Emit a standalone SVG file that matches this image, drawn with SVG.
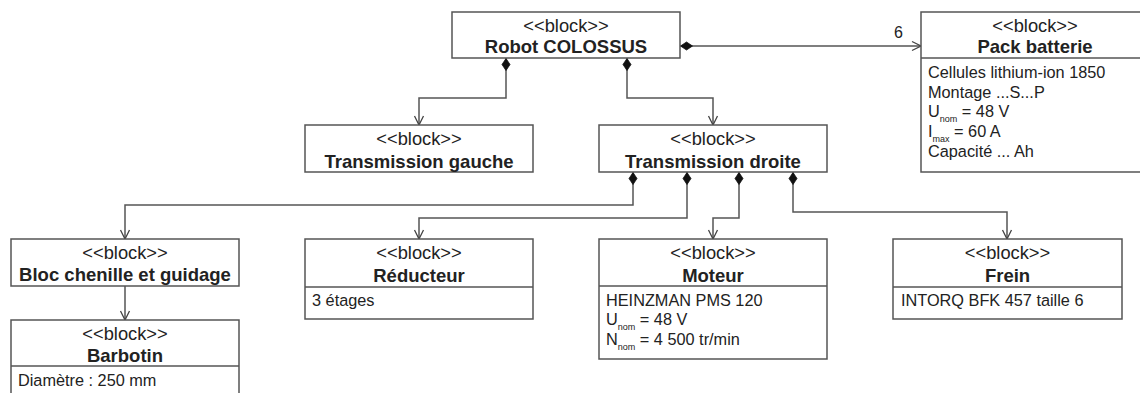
<svg xmlns="http://www.w3.org/2000/svg" width="1140" height="393" viewBox="0 0 1140 393">
<style>
.box{fill:#fff;stroke:#555;stroke-width:1.5}
.div{stroke:#555;stroke-width:1.5}
.st{font-family:"Liberation Sans",Arial,sans-serif;font-size:18.3px;fill:#222;text-anchor:middle}
.ti{font-family:"Liberation Sans",Arial,sans-serif;font-size:18.5px;font-weight:bold;fill:#222;text-anchor:middle}
.bd{font-family:"Liberation Sans",Arial,sans-serif;font-size:16.3px;fill:#222}
.sb{font-size:9px}
.cn{fill:none;stroke:#555;stroke-width:1.5;marker-start:url(#dia);marker-end:url(#arr)}
.lb{font-family:"Liberation Sans",Arial,sans-serif;font-size:16px;fill:#222}
</style>
<defs>
<marker id="dia" viewBox="0 -5 14 10" refX="0" refY="0" markerWidth="14" markerHeight="10" markerUnits="userSpaceOnUse" orient="auto">
<path d="M0.5,0 L6.5,-4 L12.5,0 L6.5,4 Z" fill="#111" stroke="#111" stroke-width="0.8"/>
</marker>
<marker id="arr" viewBox="-11 -6 12 12" refX="0" refY="0" markerWidth="12" markerHeight="12" markerUnits="userSpaceOnUse" orient="auto">
<path d="M-9,-4.5 L0,0 L-9,4.5" fill="none" stroke="#444" stroke-width="1.3"/>
</marker>
</defs>
<rect width="1140" height="393" fill="#fff"/>
<g id="connectors">
<path class="cn" d="M506,58 V98 H419 V125"/>
<path class="cn" d="M627,58 V98 H713 V125"/>
<path class="cn" d="M680,46 H921"/>
<text class="lb" x="894" y="38">6</text>
<path class="cn" d="M633,172 V205 H125 V239"/>
<path class="cn" d="M687,172 V218 H419 V239"/>
<path class="cn" d="M739,172 V218 H713 V239"/>
<path class="cn" d="M793,172 V212 H1007 V239"/>
<path d="M125,286 V320" fill="none" stroke="#555" stroke-width="1.5" marker-end="url(#arr)"/>
</g>
<g id="robot">
<rect class="box" x="452" y="12" width="228" height="46"/>
<text class="st" x="566" y="32">&lt;&lt;block&gt;&gt;</text>
<text class="ti" x="566" y="53">Robot COLOSSUS</text>
</g>
<g id="pack">
<rect class="box" x="921" y="12" width="228" height="160"/>
<line class="div" x1="921" y1="58" x2="1149" y2="58"/>
<text class="st" x="1035" y="32">&lt;&lt;block&gt;&gt;</text>
<text class="ti" x="1035" y="53">Pack batterie</text>
<text class="bd" x="928" y="78">Cellules lithium-ion 1850</text>
<text class="bd" x="928" y="97.5">Montage ...S...P</text>
<text class="bd" x="928" y="117">U<tspan class="sb" dy="5">nom</tspan><tspan dy="-5"> = 48 V</tspan></text>
<text class="bd" x="928" y="137">I<tspan class="sb" dy="5">max</tspan><tspan dy="-5"> = 60 A</tspan></text>
<text class="bd" x="928" y="157">Capacité ... Ah</text>
</g>
<g id="gauche">
<rect class="box" x="305" y="125" width="228" height="47"/>
<text class="st" x="419" y="145">&lt;&lt;block&gt;&gt;</text>
<text class="ti" x="419" y="168">Transmission gauche</text>
</g>
<g id="droite">
<rect class="box" x="599" y="125" width="228" height="47"/>
<text class="st" x="713" y="145">&lt;&lt;block&gt;&gt;</text>
<text class="ti" x="713" y="168">Transmission droite</text>
</g>
<g id="chenille">
<rect class="box" x="11" y="239" width="228" height="47"/>
<text class="st" x="125" y="259">&lt;&lt;block&gt;&gt;</text>
<text class="ti" x="125" y="281">Bloc chenille et guidage</text>
</g>
<g id="barbotin">
<rect class="box" x="11" y="320" width="228" height="90"/>
<line class="div" x1="11" y1="366" x2="239" y2="366"/>
<text class="st" x="125" y="340">&lt;&lt;block&gt;&gt;</text>
<text class="ti" x="125" y="362">Barbotin</text>
<text class="bd" x="18" y="386">Diamètre : 250 mm</text>
</g>
<g id="reducteur">
<rect class="box" x="305" y="239" width="228" height="80"/>
<line class="div" x1="305" y1="287" x2="533" y2="287"/>
<text class="st" x="419" y="259">&lt;&lt;block&gt;&gt;</text>
<text class="ti" x="419" y="282">Réducteur</text>
<text class="bd" x="312" y="306">3 étages</text>
</g>
<g id="moteur">
<rect class="box" x="599" y="239" width="228" height="120"/>
<line class="div" x1="599" y1="286" x2="827" y2="286"/>
<text class="st" x="713" y="259">&lt;&lt;block&gt;&gt;</text>
<text class="ti" x="713" y="282">Moteur</text>
<text class="bd" x="606" y="306">HEINZMAN PMS 120</text>
<text class="bd" x="606" y="325">U<tspan class="sb" dy="5">nom</tspan><tspan dy="-5"> = 48 V</tspan></text>
<text class="bd" x="606" y="345">N<tspan class="sb" dy="5">nom</tspan><tspan dy="-5"> = 4 500 tr/min</tspan></text>
</g>
<g id="frein">
<rect class="box" x="893" y="239" width="229" height="80"/>
<line class="div" x1="893" y1="287" x2="1122" y2="287"/>
<text class="st" x="1007.5" y="259">&lt;&lt;block&gt;&gt;</text>
<text class="ti" x="1007.5" y="282">Frein</text>
<text class="bd" x="901" y="306">INTORQ BFK 457 taille 6</text>
</g>
</svg>
